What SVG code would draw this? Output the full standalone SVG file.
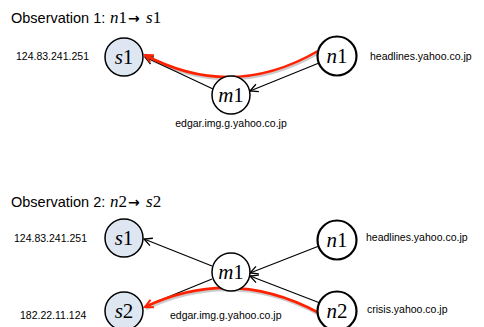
<svg xmlns="http://www.w3.org/2000/svg" width="484" height="327" viewBox="0 0 484 327">
<style>
.title{font-family:"Liberation Sans",Arial,sans-serif;font-size:14.5px;fill:#000}
.arr{font-family:"DejaVu Sans",sans-serif;font-size:14px;font-weight:bold;fill:#000}
.math{font-family:"Liberation Serif","Times New Roman",serif;font-size:17px}
.lbl{font-family:"Liberation Sans",Arial,sans-serif;font-size:10.5px;fill:#000}
.nl{font-family:"Liberation Serif","Times New Roman",serif;font-size:21px;text-anchor:middle;fill:#000}
.s{fill:#dde6f1;stroke:#000;stroke-width:1.5}
.w{fill:#fff;stroke:#000;stroke-width:1.5}
.n{fill:#fff;stroke:#000;stroke-width:2.2}
.e{fill:none;stroke:#000;stroke-width:1.2}
.r{fill:none;stroke:#ff2200;stroke-width:2.6}
.sh{fill:none;stroke:#999;stroke-width:2.6;opacity:0.5}
</style>
<defs>
<marker id="ab" markerUnits="userSpaceOnUse" markerWidth="12" markerHeight="12" refX="9" refY="5" orient="auto">
<path d="M1,1 L9,5 L1,9" fill="none" stroke="#000" stroke-width="1.3"/>
</marker>
<marker id="ar" markerUnits="userSpaceOnUse" markerWidth="12" markerHeight="12" refX="9" refY="5" orient="auto">
<path d="M1,1 L9,5 L1,9" fill="none" stroke="#ff2200" stroke-width="2"/>
</marker>
</defs>

<g id="title1">
<text class="title" x="11" y="23">Observation 1:</text>
<text class="math" x="110" y="23"><tspan font-style="italic">n</tspan>1</text>
<text class="arr" x="128" y="23">→</text>
<text class="math" x="146" y="23"><tspan font-style="italic">s</tspan>1</text>
</g>
<g id="title2">
<text class="title" x="11" y="207">Observation 2:</text>
<text class="math" x="110" y="207"><tspan font-style="italic">n</tspan>2</text>
<text class="arr" x="128" y="207">→</text>
<text class="math" x="146" y="207"><tspan font-style="italic">s</tspan>2</text>
</g>

<g id="connectors">
<path class="sh" d="M319,53 Q233,103 146,57"/>
<line class="e" x1="319" y1="63" x2="250" y2="91" marker-end="url(#ab)"/>
<line class="e" x1="213" y1="89" x2="145" y2="57" marker-end="url(#ab)"/>
<path class="r" d="M318,51 Q232,101 145,55" marker-end="url(#ar)"/>

<path class="sh" d="M320,315 Q233,268 146,309"/>
<line class="e" x1="319" y1="246" x2="250" y2="273" marker-end="url(#ab)"/>
<line class="e" x1="320" y1="303" x2="250" y2="276" marker-end="url(#ab)"/>
<line class="e" x1="212" y1="266" x2="144" y2="239" marker-end="url(#ab)"/>
<line class="e" x1="212" y1="279" x2="146" y2="306"/>
<path class="r" d="M319,313 Q232,266 145,307" marker-end="url(#ar)"/>
</g>

<g id="s1a"><circle class="s" cx="124" cy="57" r="19"/><text class="nl" x="124" y="64"><tspan font-style="italic">s</tspan>1</text></g>
<g id="m1a"><circle class="w" cx="231" cy="95" r="19"/><text class="nl" x="231" y="102"><tspan font-style="italic">m</tspan>1</text></g>
<g id="n1a"><circle class="n" cx="337" cy="56" r="19.5"/><text class="nl" x="337" y="63"><tspan font-style="italic">n</tspan>1</text></g>

<g id="s1b"><circle class="s" cx="124" cy="238" r="19"/><text class="nl" x="124" y="245"><tspan font-style="italic">s</tspan>1</text></g>
<g id="s2b"><circle class="s" cx="124" cy="311" r="19"/><text class="nl" x="124" y="318"><tspan font-style="italic">s</tspan>2</text></g>
<g id="m1b"><circle class="w" cx="231" cy="272" r="19"/><text class="nl" x="231" y="279"><tspan font-style="italic">m</tspan>1</text></g>
<g id="n1b"><circle class="n" cx="337" cy="240" r="19.5"/><text class="nl" x="337" y="247"><tspan font-style="italic">n</tspan>1</text></g>
<g id="n2b"><circle class="n" cx="337" cy="311" r="19.5"/><text class="nl" x="337" y="318"><tspan font-style="italic">n</tspan>2</text></g>

<g id="labels">
<text class="lbl" x="16" y="60">124.83.241.251</text>
<text class="lbl" x="370" y="60">headlines.yahoo.co.jp</text>
<text class="lbl" x="231" y="127" text-anchor="middle">edgar.img.g.yahoo.co.jp</text>
<text class="lbl" x="14" y="242">124.83.241.251</text>
<text class="lbl" x="366" y="241">headlines.yahoo.co.jp</text>
<text class="lbl" x="20" y="319">182.22.11.124</text>
<text class="lbl" x="170" y="319">edgar.img.g.yahoo.co.jp</text>
<text class="lbl" x="367" y="313">crisis.yahoo.co.jp</text>
</g>
</svg>
